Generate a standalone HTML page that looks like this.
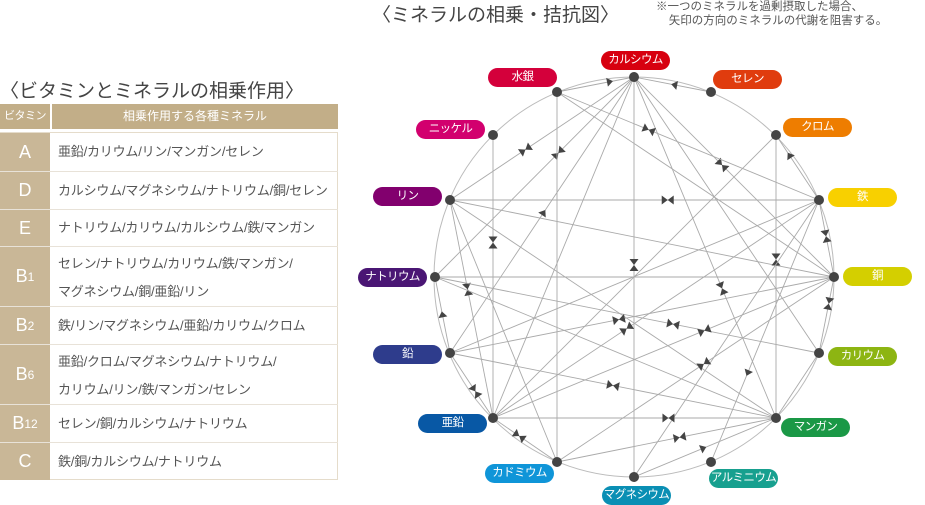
<!DOCTYPE html>
<html><head><meta charset="utf-8"><style>
body{margin:0;width:925px;height:505px;background:#fff;position:relative;overflow:hidden;font-family:"Liberation Sans","Noto Sans CJK JP",sans-serif;color:#444}
.t{position:absolute;white-space:nowrap}
.row{position:absolute;left:0;width:338px;border-bottom:1px solid #e8e2d8}
.row .k{position:absolute;left:0;top:0;bottom:0;width:50px;background:#c9b797;color:#fff;font-size:18px;display:flex;align-items:center;justify-content:center}
.row .v{position:absolute;left:58px;font-size:13px;color:#555;line-height:28px;white-space:nowrap;letter-spacing:-0.2px}
.p{position:absolute;height:19px;border-radius:10px;color:#fff;font-size:11.5px;text-align:center;line-height:19px;white-space:nowrap;letter-spacing:-0.6px}
</style></head><body>
<div class="t" style="left:0;top:76px;font-size:19px;color:#444">〈ビタミンとミネラルの相乗作用〉</div>
<div style="position:absolute;left:0;top:104px;width:50px;height:25px;background:#c2ae88;color:#fff;font-size:11px;line-height:25px;text-align:center;white-space:nowrap;letter-spacing:-0.5px">ビタミン</div>
<div style="position:absolute;left:52px;top:104px;width:286px;height:25px;background:#c2ae88;color:#fff;font-size:12px;line-height:25px;text-align:center">相乗作用する各種ミネラル</div>
<div style="position:absolute;left:0;top:132px;width:338px;height:348px;border:1px solid #e5dccb;border-left:none;box-sizing:border-box"></div>
<div class="row" style="top:133px;height:38px"><div class="k">A</div><div class="v" style="top:5px">亜鉛/カリウム/リン/マンガン/セレン</div></div>
<div class="row" style="top:172px;height:37px"><div class="k">D</div><div class="v" style="top:5px">カルシウム/マグネシウム/ナトリウム/銅/セレン</div></div>
<div class="row" style="top:210px;height:36px"><div class="k">E</div><div class="v" style="top:4px">ナトリウム/カリウム/カルシウム/鉄/マンガン</div></div>
<div class="row" style="top:247px;height:59px"><div class="k">B<small style="font-size:12px">1</small></div><div class="v" style="top:3px">セレン/ナトリウム/カリウム/鉄/マンガン/<br>マグネシウム/銅/亜鉛/リン</div></div>
<div class="row" style="top:307px;height:37px"><div class="k">B<small style="font-size:12px">2</small></div><div class="v" style="top:5px">鉄/リン/マグネシウム/亜鉛/カリウム/クロム</div></div>
<div class="row" style="top:345px;height:59px"><div class="k">B<small style="font-size:12px">6</small></div><div class="v" style="top:3px">亜鉛/クロム/マグネシウム/ナトリウム/<br>カリウム/リン/鉄/マンガン/セレン</div></div>
<div class="row" style="top:405px;height:37px"><div class="k">B<small style="font-size:12px">12</small></div><div class="v" style="top:5px">セレン/銅/カルシウム/ナトリウム</div></div>
<div class="row" style="top:443px;height:37px;border-bottom:none"><div class="k">C</div><div class="v" style="top:5px">鉄/銅/カルシウム/ナトリウム</div></div>

<div class="t" style="left:372px;top:0px;font-size:19px;color:#444">〈ミネラルの相乗・拮抗図〉</div>
<div class="t" style="left:656px;top:0px;font-size:11.5px;line-height:14px;color:#555">※一つのミネラルを過剰摂取した場合、<br>&nbsp;&nbsp;&nbsp;&nbsp;矢印の方向のミネラルの代謝を阻害する。</div>

<svg id="g" width="925" height="505" style="position:absolute;left:0;top:0"></svg>
<div id="labels"></div>
<script>
var N={Ca:[634,77],Hg:[557,92],Se:[711,92],Ni:[493,135],Cr:[776,135],P:[450,200],Fe:[819,200],Na:[435,277],Cu:[834,277],Pb:[450,353],K:[819,353],Zn:[493,418],Mn:[776,418],Cd:[557,462],Al:[711,462],Mg:[634,477]};
var E=[["Ca","Hg",1],["Ca","Se",1],["Ca","Mg",2],["Ca","Na",2],["Ca","P",2],["Ca","Pb",1],["Ca","Zn",0],["Ca","Mn",2],["Ca","K",0],["Ca","Cu",2],
["Hg","Fe",2],["Hg","Cd",0],["Hg","Cu",0],["Ni","Zn",2],["P","Fe",2],["P","Cu",0],["P","Zn",2],["P","Cd",0],["P","Mn",0],
["Cr","Mn",2],["Cr","Fe",1],["Cr","Zn",0],["Fe","Cu",2],["Fe","Pb",0],["Fe","Zn",2],["Fe","Mg",0],
["Na","Cu",0],["Na","K",2],["Na","Pb",1],["Na","Mn",0],["Cu","K",2],["Cu","Pb",2],["Cu","Cd",2],["Cu","Zn",2],
["Pb","Zn",2],["Pb","Mn",2],["Zn","Cd",2],["Zn","Mn",2],["Mn","Mg",1],["Mn","Cd",2],["Al","Fe",1],["K","Mn",0]];
var s='<circle cx="634" cy="277" r="200" fill="none" stroke="#bbb" stroke-width="1"/>';
function tri(x,y,ux,uy){var px=-uy,py=ux;return '<polygon points="'+(x+ux*6)+','+(y+uy*6)+' '+(x+px*4.5)+','+(y+py*4.5)+' '+(x-px*4.5)+','+(y-py*4.5)+'" fill="#444"/>';}
E.forEach(function(e,i){var a=N[e[0]],b=N[e[1]];s+='<line x1="'+a[0]+'" y1="'+a[1]+'" x2="'+b[0]+'" y2="'+b[1]+'" stroke="#aaa" stroke-width="0.9"/>';
var dx=b[0]-a[0],dy=b[1]-a[1],L=Math.hypot(dx,dy),ux=dx/L,uy=dy/L,t=0.35+0.3*((i*37)%10)/10,mx=a[0]+dx*t,my=a[1]+dy*t;
if(e[2]==2){s+=tri(mx-ux*6,my-uy*6,ux,uy)+tri(mx+ux*6,my+uy*6,-ux,-uy);}else if(e[2]==1){s+=tri(mx,my,-ux,-uy);}});
for(var k in N)s+='<circle cx="'+N[k][0]+'" cy="'+N[k][1]+'" r="5" fill="#444"/>';
document.getElementById('g').innerHTML=s;
var P=[["カルシウム",601,51,"#d7000f"],["水銀",488,68,"#d4003b"],["セレン",713,70,"#e03c0e"],["ニッケル",416,120,"#d2006e"],["クロム",783,118,"#ee7d00"],["リン",373,187,"#82006e"],["鉄",828,188,"#f8d000"],["ナトリウム",358,268,"#4a1674"],["銅",843,267,"#d4cf00"],["鉛",373,345,"#2e3c8c"],["カリウム",828,347,"#8db512"],["亜鉛",418,414,"#0858a5"],["マンガン",781,418,"#1a9846"],["カドミウム",485,464,"#0f95d8"],["アルミニウム",709,469,"#17a08f"],["マグネシウム",602,486,"#0a8fb4"]];
var h='';P.forEach(function(p){h+='<div class="p" style="left:'+p[1]+'px;top:'+p[2]+'px;width:69px;background:'+p[3]+'">'+p[0]+'</div>';});
document.getElementById('labels').innerHTML=h;
</script>
</body></html>
